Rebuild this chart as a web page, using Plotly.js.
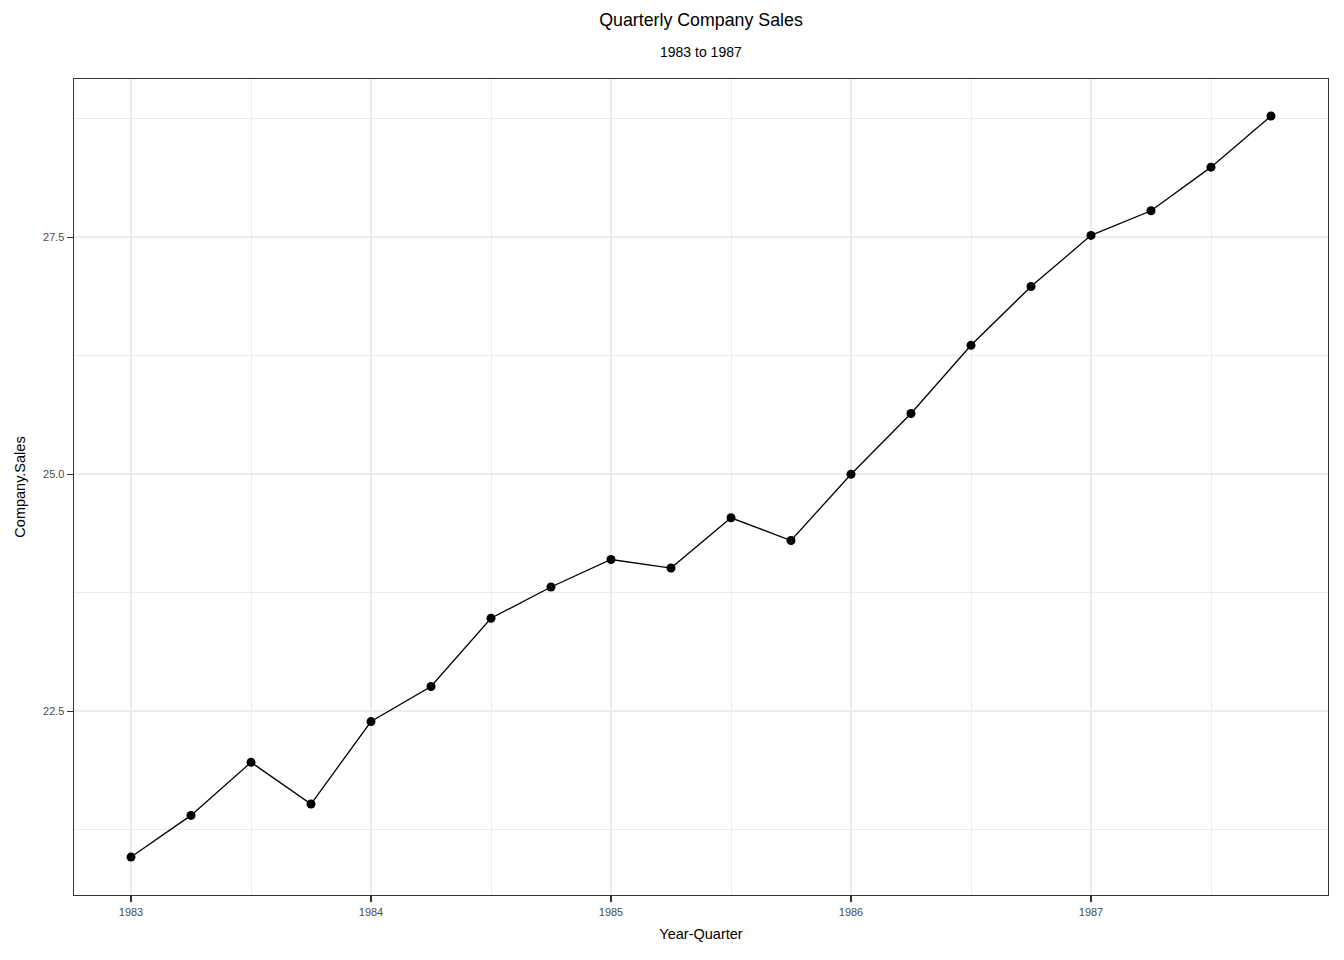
<!DOCTYPE html>
<html>
<head>
<meta charset="utf-8">
<script src="https://cdn.plot.ly/plotly-3.0.1.min.js"></script>
<style>html,body{margin:0;padding:0;background:#fff;}#chart{width:1344px;height:960px;}</style>
</head>
<body>
<div id="chart"></div>
<script>
const yearQuarter = [1983.00, 1983.25, 1983.50, 1983.75, 1984.00, 1984.25, 1984.50, 1984.75,
                     1985.00, 1985.25, 1985.50, 1985.75, 1986.00, 1986.25, 1986.50, 1986.75,
                     1987.00, 1987.25, 1987.50, 1987.75];
const companySales = [20.96, 21.40, 21.96, 21.52, 22.39, 22.76, 23.48, 23.81, 24.10, 24.01,
                      24.54, 24.30, 25.00, 25.64, 26.36, 26.98, 27.52, 27.78, 28.24, 28.78];
const xTickVals = [1983, 1984, 1985, 1986, 1987];
const xTickText = ["1983", "1984", "1985", "1986", "1987"];
const xMinorVals = [1983.5, 1984.5, 1985.5, 1986.5, 1987.5];
const yTickVals = [22.5, 25.0, 27.5];
const yTickText = ["22.5", "25.0", "27.5"];
const yMinorVals = [21.25, 23.75, 26.25, 28.75];
const titleText = "Quarterly Company Sales";
const subtitleText = "1983 to 1987";
const xTitle = "Year-Quarter";
const yTitle = "Company.Sales";

const font = "Liberation Sans, Arial, sans-serif";

const trace = {
  x: yearQuarter, y: companySales, type: "scatter", mode: "lines+markers",
  line: {color: "#000", width: 1.3},
  marker: {color: "#000", size: 9},
  hoverinfo: "x+y"
};

const plotTop = 79, plotBottom = 895;
const layout = {
  width: 1344, height: 960,
  paper_bgcolor: "#fff", plot_bgcolor: "#fff",
  margin: {l: 74, r: 16, t: plotTop, b: 960 - plotBottom},
  showlegend: false,
  font: {family: font, color: "#000"},
  title: {text: titleText, font: {family: font, size: 17.8, color: "#000"},
          x: 0.5, xref: "paper", y: 1 - 20/960, yref: "container", yanchor: "middle", xanchor: "center"},
  annotations: [{text: subtitleText, xref: "paper", yref: "paper", x: 0.5,
                 y: (plotBottom - 52) / (plotBottom - plotTop),
                 xanchor: "center", yanchor: "middle", showarrow: false,
                 font: {family: font, size: 14, color: "#000"}}],
  xaxis: {
    range: [1982.7625, 1987.9875],
    tickmode: "array", tickvals: xTickVals, ticktext: xTickText,
    ticks: "outside", ticklen: 6, tickwidth: 1.2, tickcolor: "#333",
    tickfont: {family: font, size: 11, color: "#4d4d4d"},
    showgrid: true, gridcolor: "#ebebeb", gridwidth: 2,
    minor: {tickmode: "array", tickvals: xMinorVals, showgrid: true, gridcolor: "#ebebeb", gridwidth: 1, ticks: ""},
    zeroline: false,
    showline: true, linecolor: "#333", linewidth: 1.3, mirror: true,
    title: {text: xTitle, font: {family: font, size: 14.5, color: "#000"}, standoff: 12}
  },
  yaxis: {
    range: [20.56, 29.17],
    tickmode: "array", tickvals: yTickVals, ticktext: yTickText,
    ticks: "outside", ticklen: 6, tickwidth: 1.2, tickcolor: "#333",
    tickfont: {family: font, size: 11, color: "#4d4d4d"},
    showgrid: true, gridcolor: "#ebebeb", gridwidth: 2,
    minor: {tickmode: "array", tickvals: yMinorVals, showgrid: true, gridcolor: "#ebebeb", gridwidth: 1, ticks: ""},
    zeroline: false,
    showline: true, linecolor: "#333", linewidth: 1.3, mirror: true,
    title: {text: yTitle, font: {family: font, size: 14.5, color: "#000"}, standoff: 14}
  }
};

Plotly.newPlot("chart", [trace], layout, {displayModeBar: false, staticPlot: true});
</script>
</body>
</html>
